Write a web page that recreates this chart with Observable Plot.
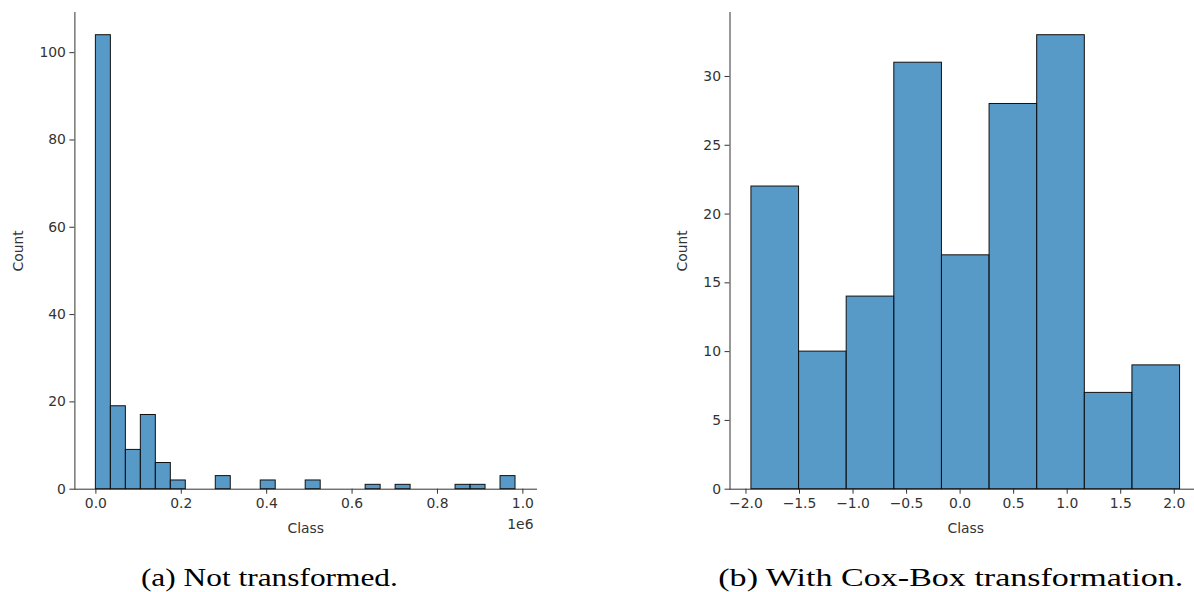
<!DOCTYPE html>
<html>
<head>
<meta charset="utf-8">
<script src="https://cdn.jsdelivr.net/npm/d3@7"></script>
<script src="https://cdn.jsdelivr.net/npm/@observablehq/plot@0.6"></script>
<style>
  html, body { margin: 0; padding: 0; background: #fff; }
  #fig { position: relative; width: 1194px; height: 592px; overflow: hidden; background: #fff; }
  .panel { position: absolute; top: 0; }
  .cap { position: absolute; font-family: "Liberation Serif", "DejaVu Serif", serif; font-size: 25px; line-height: 30px; color: #000; white-space: nowrap; }
</style>
</head>
<body>
<div id="fig"></div>
<script>
// ---- Data ----
// (a) raw "Class" values, histogram with equal-width bins
const rawBinStart = 0;
const rawBinWidth = 35100;
const rawCounts = [104, 19, 9, 17, 6, 2, 0, 0, 3, 0, 0, 2, 0, 0, 2, 0, 0, 0, 1, 0, 1, 0, 0, 0, 1, 1, 0, 3];
const rawXTicks = [0, 200000, 400000, 600000, 800000, 1000000];
const rawYTicks = [0, 20, 40, 60, 80, 100];

// (b) Cox-Box transformed "Class"
const coxBinStart = -1.949;
const coxBinWidth = 0.4448;
const coxCounts = [22, 10, 14, 31, 17, 28, 33, 7, 9];
const coxXTicks = [-2.0, -1.5, -1.0, -0.5, 0.0, 0.5, 1.0, 1.5, 2.0];
const coxYTicks = [0, 5, 10, 15, 20, 25, 30];

const captions = ["(a) Not transformed.", "(b) With Cox-Box transformation."];
const xLabel = "Class";
const yLabel = "Count";
const offsetText = "1e6";

// ---- helpers ----
function bins(start, width, counts) {
  return counts.map((c, i) => ({x1: start + i * width, x2: start + (i + 1) * width, count: c}))
               .filter(d => d.count > 0);
}
function padDomain(lo, hi) { const s = hi - lo; return [lo - 0.05 * s, hi + 0.05 * s]; }
const fmt1 = d => (d < 0 ? "\u2212" : "") + Math.abs(d).toFixed(1);

const common = {
  height: 540,
  marginTop: 12,
  marginBottom: 51.3,
  style: {fontFamily: "'DejaVu Sans', sans-serif", fontSize: "13.9px", color: "#333", background: "transparent", overflow: "visible"}
};

function panel({data, xDomain, xTicks, xFormat, yMax, yTicks, width, marginLeft, marginRight, yLabelOffset, extra}) {
  return Plot.plot({
    ...common,
    width, marginLeft, marginRight,
    x: {domain: xDomain, ticks: xTicks, tickFormat: xFormat, tickSize: 5, tickPadding: 4, line: true,
        label: xLabel, labelAnchor: "center", labelOffset: 44, labelArrow: false},
    y: {domain: [0, yMax * 1.05], ticks: yTicks, tickSize: 5, tickPadding: 4, line: true,
        label: yLabel, labelAnchor: "center", labelOffset: yLabelOffset, labelArrow: false},
    marks: [
      Plot.rectY(data, {x1: "x1", x2: "x2", y: "count", fill: "#1f77b4", fillOpacity: 0.75,
                        stroke: "#111", strokeWidth: 1, inset: 0}),
      ...(extra || [])
    ]
  });
}

const rawData = bins(rawBinStart, rawBinWidth, rawCounts);
const coxData = bins(coxBinStart, coxBinWidth, coxCounts);

const left = panel({
  data: rawData,
  xDomain: padDomain(rawBinStart, rawBinStart + rawCounts.length * rawBinWidth),
  xTicks: rawXTicks,
  xFormat: d => (d / 1e6).toFixed(1),
  yMax: d3.max(rawCounts),
  yTicks: rawYTicks,
  width: 597, marginLeft: 74.4, marginRight: 61,
  yLabelOffset: 62,
  extra: [Plot.text([offsetText], {frameAnchor: "bottom-right", dy: 40, dx: -3, fill: "#333", textAnchor: "end"})]
});
left.classList.add("panel");
left.style.left = "0px";

const right = panel({
  data: coxData,
  xDomain: padDomain(coxBinStart, coxBinStart + coxCounts.length * coxBinWidth),
  xTicks: coxXTicks,
  xFormat: fmt1,
  yMax: d3.max(coxCounts),
  yTicks: coxYTicks,
  width: 620, marginLeft: 132.5, marginRight: 16,
  yLabelOffset: 53
});
right.classList.add("panel");
right.style.left = "597px";

const fig = document.getElementById("fig");
fig.appendChild(left);
fig.appendChild(right);

// caption layout: centre and rendered width in the reference
const capX = [269.5, 950.5];
const capW = [257, 465];
captions.forEach((t, i) => {
  const c = document.createElement("div");
  c.className = "cap";
  c.textContent = t;
  c.style.top = "563px";
  fig.appendChild(c);
  const w = c.getBoundingClientRect().width;
  const k = capW[i] / w;
  c.style.left = (capX[i] - w / 2) + "px";
  c.style.transformOrigin = "50% 50%";
  c.style.transform = `scaleX(${k})`;
});
</script>
</body>
</html>
